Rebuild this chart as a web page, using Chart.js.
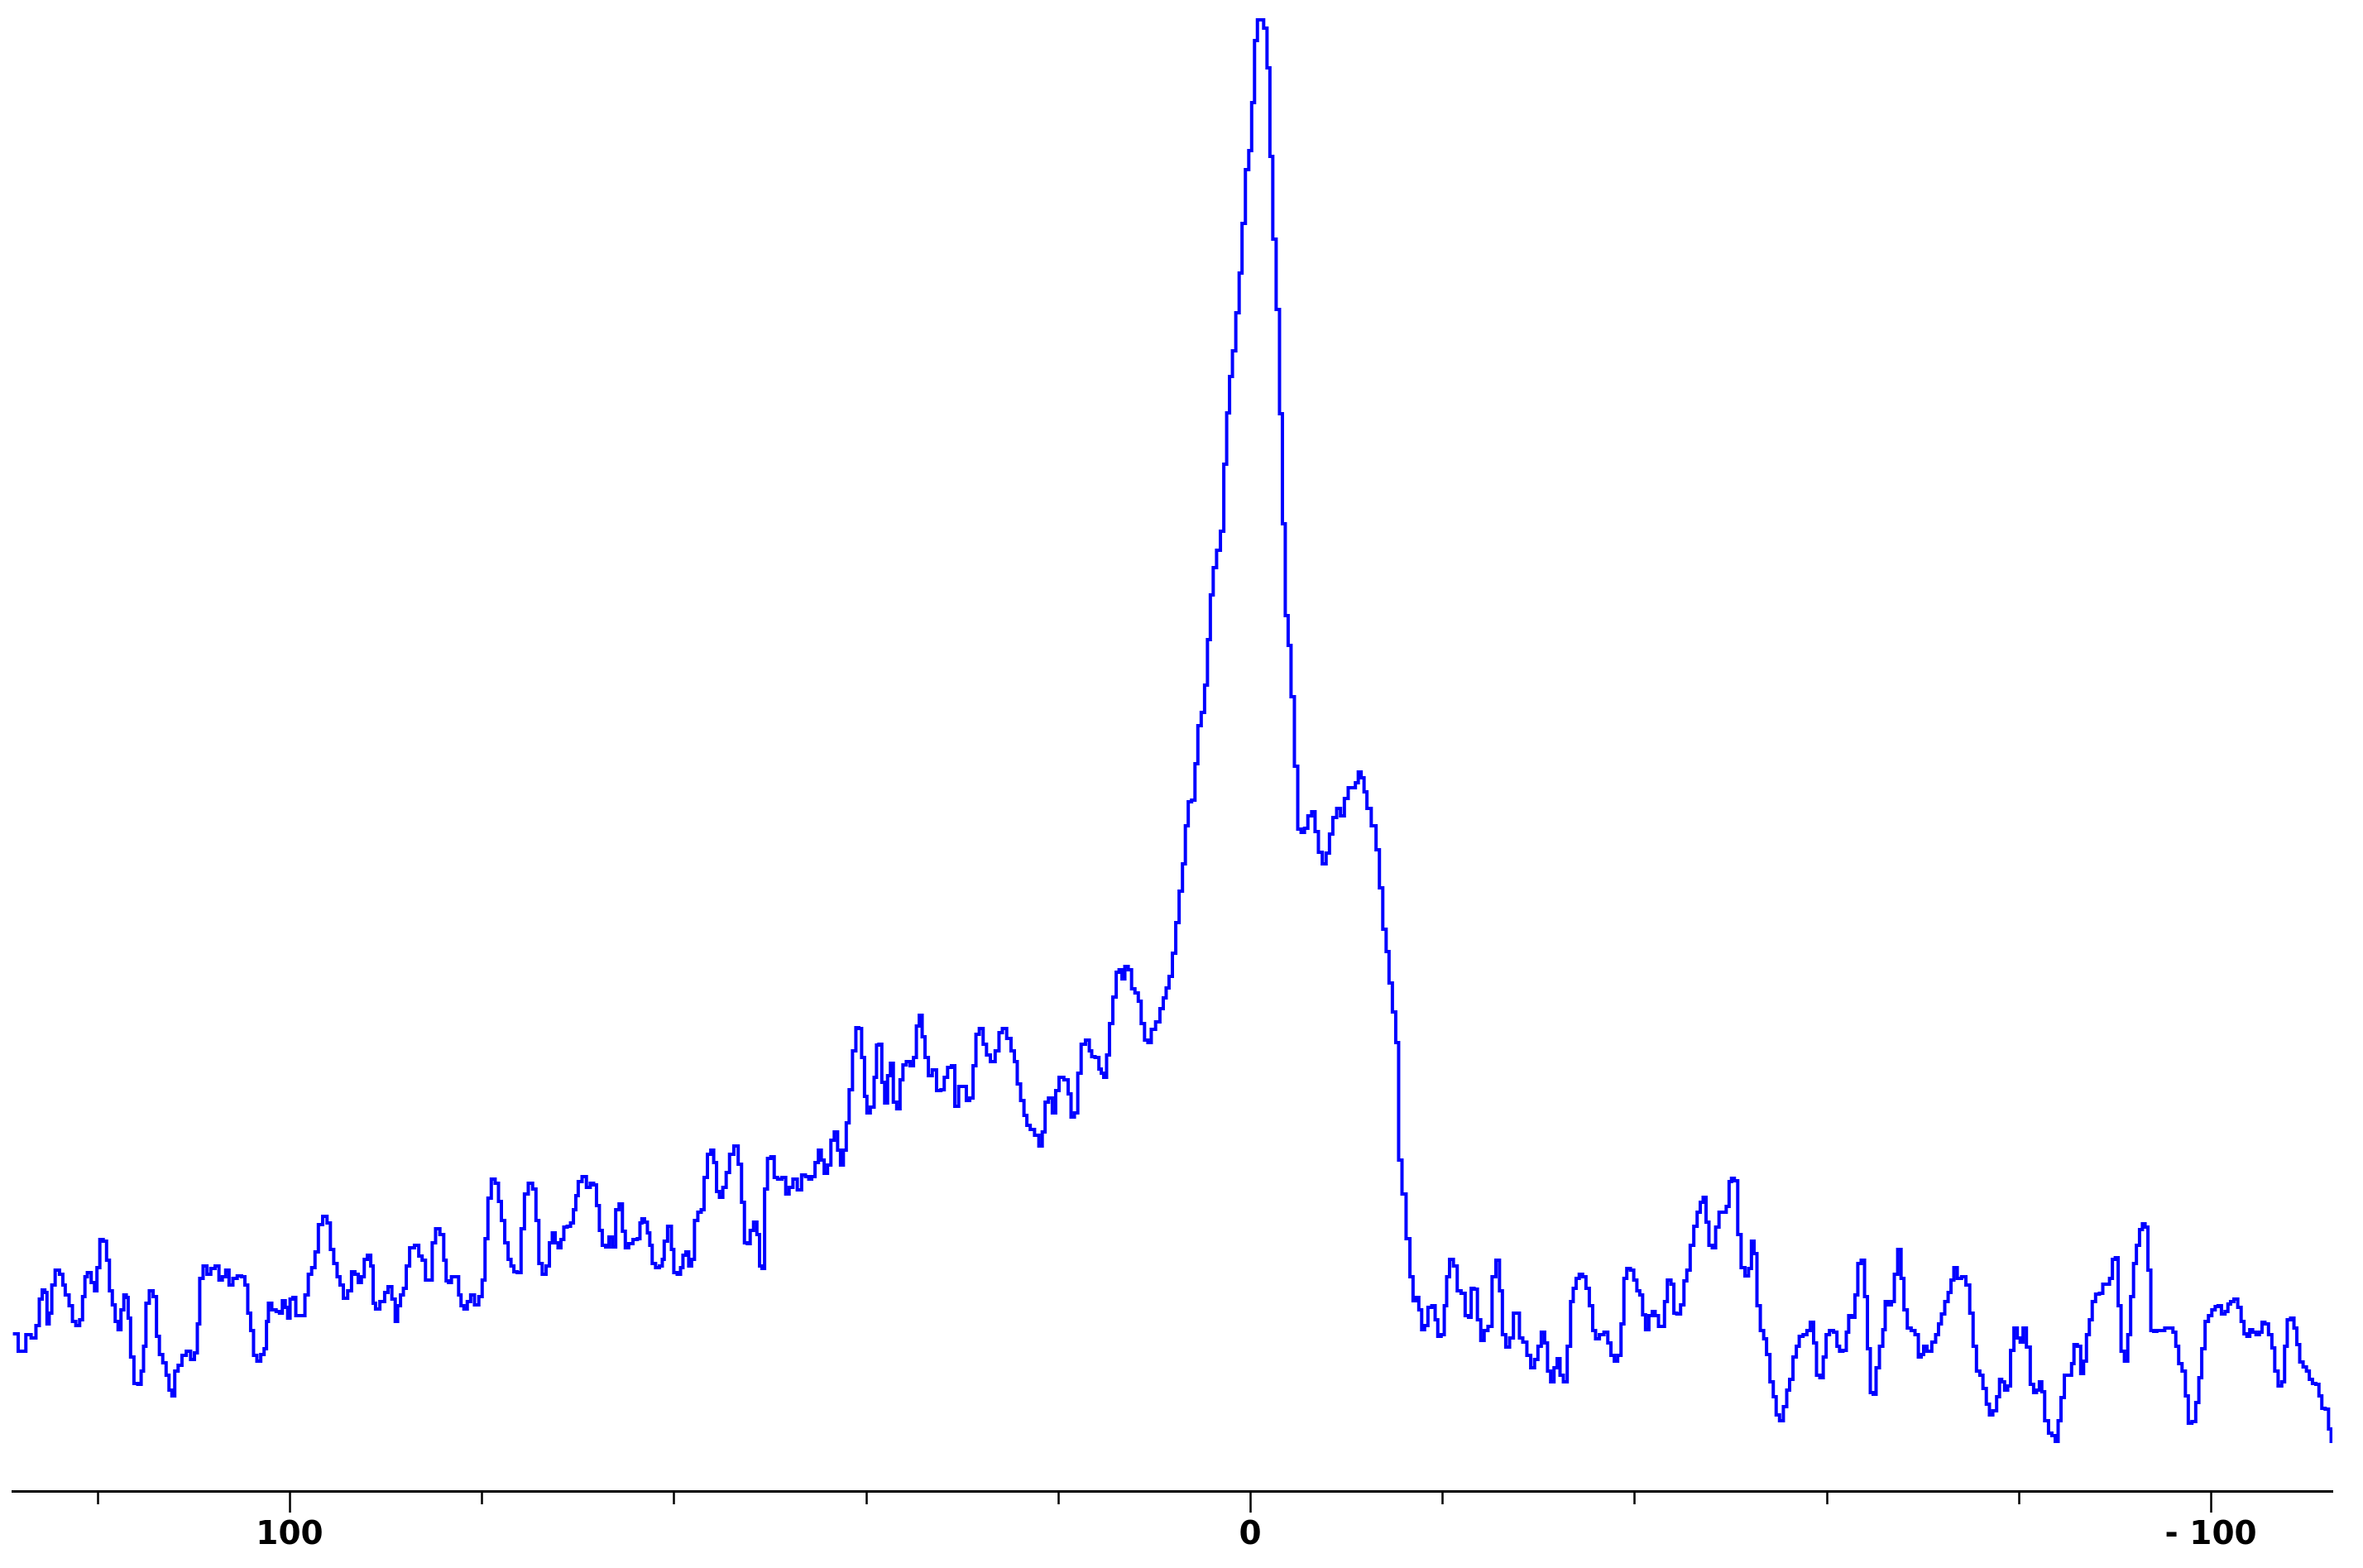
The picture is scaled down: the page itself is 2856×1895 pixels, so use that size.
<!DOCTYPE html>
<html>
<head>
<meta charset="utf-8">
<script src="https://cdn.jsdelivr.net/npm/chart.js@4.4.1/dist/chart.umd.min.js"></script>
<style>
  html, body { margin: 0; padding: 0; background: #fff; }
  #wrap { width: 2856px; height: 1895px; position: relative; }
</style>
</head>
<body>
<div id="wrap"><canvas id="spectre"></canvas></div>
<script>
// chemical shift (ppm), high to low
var shift = [
  128.8, 127.7, 127.2, 126.6, 126.2, 125.9, 125.6, 125.35, 125.15, 124.9,
  124.6, 124.2, 123.7, 123.5, 123.2, 122.7, 122.5, 122.0, 121.7, 121.4,
  121.2, 120.9, 120.4, 120.2, 119.9, 119.6, 119.2, 118.9, 118.6, 118.3,
  118.0, 117.7, 117.4, 117.1, 116.9, 116.7, 116.4, 116.0, 115.6, 115.3,
  115.1, 114.8, 114.4, 114.0, 113.7, 113.4, 113.0, 112.7, 112.4, 112.1,
  111.8, 111.4, 111.0, 110.5, 110.1, 109.7, 109.5, 109.2, 108.8, 108.4,
  108.0, 107.5, 107.2, 106.8, 106.5, 106.1, 105.7, 105.2, 104.8, 104.5,
  104.2, 103.9, 103.6, 103.2, 102.8, 102.5, 102.3, 102.1, 101.6, 101.2,
  100.9, 100.6, 100.3, 100.1, 99.8, 99.5, 99.2, 98.6, 98.2, 97.9,
  97.5, 97.2, 96.8, 96.3, 95.9, 95.6, 95.2, 94.9, 94.6, 94.2,
  93.7, 93.4, 93.0, 92.7, 92.35, 92.1, 91.7, 91.4, 91.2, 90.9,
  90.3, 89.9, 89.6, 89.1, 88.9, 88.6, 88.3, 88.0, 87.7, 87.3,
  86.7, 86.4, 86.0, 85.7, 85.3, 85.0, 84.6, 84.1, 83.8, 83.6,
  83.3, 83.0, 82.5, 82.3, 82.0, 81.7, 81.3, 81.0, 80.5, 80.1,
  79.8, 79.5, 79.2, 78.8, 78.4, 78.1, 77.8, 77.4, 77.1, 76.8,
  76.5, 76.1, 75.7, 75.4, 74.9, 74.5, 74.2, 73.9, 73.5, 73.1,
  72.8, 72.5, 72.2, 71.9, 71.6, 71.3, 70.9, 70.6, 70.3, 70.1,
  69.8, 69.3, 68.9, 68.5, 68.2, 67.9, 67.6, 67.3, 66.9, 66.6,
  66.2, 65.9, 65.5, 65.2, 64.9, 64.5, 64.0, 63.6, 63.45, 63.2,
  62.9, 62.6, 62.4, 62.1, 61.7, 61.3, 61.1, 60.9, 60.4, 60.1,
  59.9, 59.4, 59.2, 58.9, 58.6, 58.3, 58.0, 57.7, 57.3, 57.0,
  56.7, 56.3, 56.0, 55.7, 55.4, 55.1, 54.7, 54.4, 54.0, 53.5,
  53.1, 52.8, 52.5, 52.2, 51.9, 51.5, 51.2, 50.95, 50.7, 50.4,
  50.1, 49.7, 49.4, 49.0, 48.5, 48.2, 47.8, 47.4, 46.9, 46.5,
  46.1, 45.8,
  45.5, 45.1, 44.8, 44.5, 44.2, 43.8, 43.5, 43.1, 42.8, 42.5,
  42.2, 41.9, 41.6, 41.2, 40.9, 40.6, 40.3, 40.0, 39.8, 39.3,
  39.0, 38.8, 38.5, 38.2, 37.9, 37.6, 37.3, 37.0, 36.6, 36.3,
  36.0, 35.6, 35.2, 34.9, 34.6, 34.3, 34.0, 33.7, 33.3, 32.9,
  32.4, 32.0, 31.7, 31.3, 30.9, 30.6, 30.1, 29.7, 29.4, 29.0,
  28.7, 28.4, 28.0, 27.6, 27.3, 26.8, 26.3, 26.0, 25.6, 25.1,
  24.7, 24.4, 24.1, 23.7, 23.4, 23.1, 22.7, 22.2, 21.8, 21.5,
  21.2, 20.8, 20.4, 20.1, 19.7, 19.1, 18.8, 18.5, 18.1, 17.8,
  17.4, 16.9, 16.6, 16.4, 15.9, 15.6, 15.4, 15.1, 14.8, 14.5,
  14.1, 13.8, 13.5, 13.2, 12.9, 12.5, 12.2, 11.8, 11.5, 11.2,
  10.8,
  10.5, 10.1, 9.6, 9.2, 8.9, 8.6, 8.3, 7.9, 7.6, 7.2,
  6.9, 6.6, 6.3, 5.9, 5.6, 5.3, 4.9, 4.6, 4.3, 4.0,
  3.7, 3.3, 2.9, 2.6, 2.3, 2.0, 1.7, 1.3, 1.0, 0.7,
  0.3, 0.0, -0.3, -0.6, -0.9, -1.2, -1.6, -1.9, -2.2, -2.5,
  -2.9, -3.2, -3.5, -3.8, -4.1, -4.4, -4.8, -5.1, -5.5, -5.8,
  -6.2, -6.6, -6.9, -7.3, -7.7, -8.1, -8.4, -8.8, -9.2, -9.6,
  -10.0, -10.4, -10.8, -11.1, -11.4, -11.7, -12.0, -12.3, -12.9, -13.3,
  -13.6, -14.0, -14.3, -14.6, -15.0, -15.3,
  -15.6, -16.0, -16.45, -16.8, -17.1, -17.4, -17.7, -18.0, -18.3, -18.7,
  -19.1, -19.4, -19.65, -20.1, -20.3, -20.6, -20.9, -21.4, -21.7, -22.2,
  -22.55, -22.9, -23.1, -23.5, -23.8, -24.2, -24.5, -25.0, -25.35, -25.8,
  -26.1, -26.4, -26.8, -27.2, -27.6, -27.9, -28.15, -28.6, -29.0, -29.4,
  -29.8, -30.1, -30.5, -30.8, -31.1, -31.45, -31.8, -32.1, -32.4, -32.8,
  -33.2, -33.5, -33.75, -34.1, -34.4, -34.8, -35.1, -35.5, -35.8, -36.1,
  -36.6, -37.05, -37.4, -37.7, -38.1, -38.4, -38.8, -39.0, -39.4, -39.75,
  -40.1, -40.4, -40.7, -41.0, -41.3, -41.7, -42.0, -42.3, -42.7, -43.0,
  -43.25, -43.6, -44.0, -44.2, -44.6, -45.0, -45.3, -45.6, -46.0, -46.35,
  -46.7, -47.0, -47.3, -47.6, -47.9, -48.3, -48.6, -49.0, -49.4, -49.7,
  -50.0, -50.2, -50.6, -50.9, -51.3, -51.7, -52.05, -52.3, -52.6, -52.9,
  -53.3, -53.6, -53.9, -54.3, -54.6, -54.9, -55.3, -55.7, -56.0, -56.3,
  -56.7, -57.0, -57.3, -57.8, -58.1, -58.5, -58.8, -59.1, -59.5, -59.8,
  -60.1, -60.5, -60.95, -61.2, -61.5, -61.9, -62.2, -62.4, -62.8, -63.1,
  -63.4, -63.8, -64.1, -64.4, -64.7, -65.0, -65.3, -65.7, -66.0,
  -66.2, -66.6, -66.9, -67.2, -67.6, -67.9, -68.2, -68.6, -69.0, -69.4,
  -69.7, -70.0, -70.2, -70.7, -71.2, -71.5, -71.8, -72.1, -72.5, -72.8,
  -73.1, -73.4, -73.8, -74.3, -74.7, -75.1, -75.4, -75.8, -76.1, -76.45,
  -76.8, -77.1, -77.5, -77.9, -78.1, -78.35, -78.7, -79.0, -79.3, -79.7,
  -80.0, -80.3, -80.6, -81.0, -81.4, -81.7, -82.0, -82.3, -82.5, -82.9,
  -83.3, -83.6, -84.0, -84.2, -84.6, -84.9, -85.4, -85.6, -85.9, -86.3,
  -86.6, -86.9, -87.2, -87.5, -87.8, -88.2, -88.6, -88.9, -89.3, -89.6,
  -89.9, -90.2, -90.5, -90.8, -91.2, -91.5, -91.8, -92.1, -92.4, -92.75,
  -93.0, -93.3, -93.6, -93.9, -94.2, -94.55, -95.0, -95.4, -95.9, -96.2,
  -96.5, -96.8, -97.2, -97.5, -97.8, -98.25, -98.6, -98.9, -99.2, -99.6,
  -99.9, -100.3, -100.6, -100.9, -101.3, -101.65, -101.9, -102.2, -102.6, -103.0,
  -103.3, -103.6, -103.9, -104.2, -104.5, -104.9, -105.2, -105.45, -105.8, -106.2,
  -106.5, -106.8, -107.2, -107.55, -107.8, -108.1, -108.5, -108.8, -109.1, -109.4,
  -109.8, -110.1, -110.4, -110.75, -111.1, -111.4, -111.7, -112.1, -112.4, -112.65
];

// signal intensity (arbitrary units), same order as shift
var intensity = [
  190, 169, 189, 185, 200, 232, 243, 240, 202, 215,
  249, 267, 262, 249, 237, 224, 205, 200, 207, 235,
  259, 264, 252, 242, 270, 304, 302, 279, 242, 225,
  205, 195, 219, 237, 234, 209, 162, 130, 129, 145,
  175, 227, 242, 235, 187, 165, 155, 140, 122, 115,
  145, 152, 164, 169, 159, 167, 202, 257, 272, 262,
  269, 272, 255, 259, 267, 249, 257, 260, 259, 249,
  215, 194, 164, 157, 165, 172, 205, 227, 219, 217,
  215, 230, 222, 209, 232, 234, 212, 212, 237, 262,
  270, 289, 322, 332, 324, 292, 275, 259, 249, 233,
  242, 265, 262, 252, 259, 280, 285, 272, 227, 220,
  229, 240, 247, 232, 205, 224, 237, 245, 272, 294,
  297, 284, 279, 255, 255, 300, 317, 310, 279, 254,
  252, 259, 259, 237, 224, 220, 229, 237, 225, 235,
  255, 305, 354, 377, 372, 350, 327, 300, 280, 272,
  265, 264, 317, 359, 372, 365, 327, 275, 262, 272,
  300, 312, 300, 294, 304, 319, 320, 324, 340, 357,
  374, 380, 367, 372, 370, 345, 315, 297, 295, 307,
  295, 340, 347, 314, 294, 299, 304, 305, 324, 329,
  325, 312, 297, 275, 270, 272, 280, 302, 320, 292,
  264, 262, 270, 285, 289, 272, 280, 327, 337, 340,
  379, 407, 412, 397, 362, 355, 367, 385, 407, 417,
  395, 349, 300, 299, 315, 325, 310, 272, 269, 365,
  402, 404, 379, 377, 379, 359, 367, 377, 364, 382,
  380, 377,
  380, 397, 412, 400, 384, 394, 424, 434, 412, 394,
  412, 445, 485, 532, 560, 559, 524, 477, 457, 464,
  500, 539, 540, 494, 469, 502, 517, 470, 462, 497,
  515, 519, 514, 524, 562, 575, 549, 524, 502, 509,
  484, 485, 500, 512, 514, 465, 489, 489, 472, 475,
  514, 552, 559, 540, 527, 519, 532, 554, 559, 547,
  532, 519, 492, 472, 454, 442, 437, 430, 417, 434,
  470, 475, 457, 484, 500, 497, 480, 452, 457, 505,
  540, 545, 532, 525, 524, 510, 505, 500, 527, 565,
  597, 627, 630, 619, 634, 630, 607, 602, 592, 565,
  545,
  542, 558, 567, 583, 596, 608, 622, 650, 687, 725,
  758, 804, 833, 835, 879, 925, 941, 974, 1029, 1083,
  1116, 1137, 1160, 1241, 1303, 1347, 1378, 1424, 1472, 1532,
  1597, 1620, 1678, 1753, 1778, 1778, 1768, 1720, 1613, 1513,
  1428, 1302, 1169, 1058, 1022, 960, 876, 800, 796, 801,
  816, 821, 797, 772, 758, 771, 794, 814, 825, 816,
  837, 850, 850, 856, 869, 862, 845, 825, 804, 775,
  729, 679, 652, 614, 579, 542,
  400, 359, 305, 259, 230, 234, 219, 195, 200, 222,
  224, 207, 187, 189, 224, 259, 280, 272, 242, 239,
  212, 210, 245, 244, 207, 182, 194, 199, 259, 279,
  242, 189, 174, 185, 215, 215, 185, 180, 164, 149,
  159, 175, 192, 179, 145, 132, 149, 160, 140, 132,
  175, 229, 245, 257, 262, 259, 245, 224, 194, 184,
  189, 192, 179, 164, 157, 164, 202, 257, 269, 267,
  255, 242, 237, 213, 195, 212, 217, 212, 199, 199,
  229, 255, 250, 215, 214, 225, 254, 267, 297, 320,
  337, 349, 355, 325, 297, 294, 319, 337, 337, 344,
  374, 378, 375, 310, 270, 260, 269, 302, 287, 224,
  194, 184, 165, 132, 114, 92, 85, 102, 122, 135,
  162, 175, 187, 189, 194, 204, 179, 140, 137, 162,
  189, 194, 192, 175, 169, 170, 192, 212, 210, 237,
  275, 279, 235, 172, 119, 117, 149, 175, 195,
  229, 225, 229, 262, 292, 257, 219, 197, 194, 189,
  162, 165, 175, 169, 180, 189, 202, 214, 229, 240,
  255, 270, 257, 259, 249, 215, 175, 145, 140, 124,
  105, 92, 97, 114, 135, 132, 122, 127, 170, 197,
  185, 180, 197, 174, 129, 119, 122, 132, 120, 85,
  70, 67, 60, 85, 113, 140, 140, 154, 177, 175,
  142, 157, 189, 207, 229, 238, 239, 250, 250, 257,
  280, 282, 224, 169, 157, 189, 235, 275, 297, 316,
  323, 319, 267, 194, 193, 194, 194, 197, 197, 192,
  175, 154, 145, 115, 82, 84, 107, 137, 172, 205,
  212, 219, 223, 224, 214, 217, 226, 229, 232, 222,
  205, 190, 187, 195, 192, 189, 192, 204, 202, 189,
  173, 145, 127, 132, 175, 207, 209, 197, 177, 156,
  150, 145, 135, 130, 129, 115, 100, 99, 75, 60
];

var labelledTicks = [100, 0, -100];
var tickStep = 20;

if (shift.length !== intensity.length) console.warn('longueurs differentes', shift.length, intensity.length);

var points = shift.map(function(s, i) { return { x: s, y: intensity[i] }; });

// small / big tick marks under the axis
var marquesAxe = {
  id: 'marquesAxe',
  afterDraw: function(chart) {
    var sx = chart.scales.x;
    var ctx = chart.ctx;
    ctx.save();
    ctx.strokeStyle = '#000';
    ctx.lineWidth = 2.5;
    sx.ticks.forEach(function(t) {
      if (t.value < sx.min || t.value > sx.max) return;
      var px = Math.round(sx.getPixelForValue(t.value)) + 0.5;
      var len = labelledTicks.indexOf(t.value) >= 0 ? 26 : 16;
      ctx.beginPath();
      ctx.moveTo(px, sx.top);
      ctx.lineTo(px, sx.top + len);
      ctx.stroke();
    });
    ctx.restore();
  }
};

var ctx = document.getElementById('spectre').getContext('2d');
var graphique = new Chart(ctx, {
  type: 'line',
  data: {
    datasets: [{
      label: 'spectre',
      data: points,
      borderColor: '#0000ff',
      borderWidth: 4,
      pointRadius: 0,
      stepped: 'middle',
      fill: false,
      tension: 0
    }]
  },
  options: {
    responsive: true,
    maintainAspectRatio: false,
    animation: false,
    devicePixelRatio: 1,
    layout: { padding: { left: 15, right: 37, top: 20, bottom: 0 } },
    plugins: { legend: { display: false }, tooltip: { enabled: false } },
    scales: {
      x: {
        type: 'linear',
        reverse: true,
        min: -112.65,
        max: 128.85,
        border: { display: true, color: '#000', width: 3 },
        grid: { display: true, drawOnChartArea: false, drawTicks: false },
        ticks: {
          stepSize: tickStep,
          includeBounds: false,
          autoSkip: false,
          maxRotation: 0,
          padding: 30,
          color: '#000',
          font: { family: 'DejaVu Sans', size: 39, weight: 'bold' },
          callback: function(v) {
            if (labelledTicks.indexOf(v) < 0) return '';
            return v < 0 ? '- ' + Math.abs(v) : String(v);
          }
        },
        afterFit: function(scale) { scale.height = 93; }
      },
      y: {
        display: false,
        min: 0,
        max: 1782
      }
    }
  },
  plugins: [marquesAxe]
});
</script>
</body>
</html>
